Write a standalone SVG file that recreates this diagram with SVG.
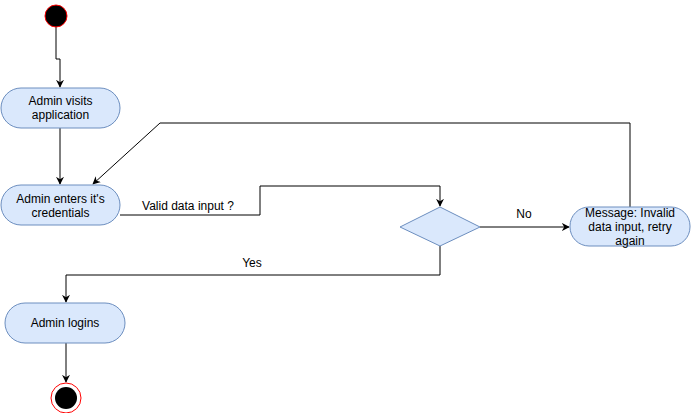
<svg xmlns="http://www.w3.org/2000/svg" width="691" height="413" viewBox="0 0 691 413">
<style>
.node{fill:#dae8fc;stroke:#6c8ebf;stroke-width:1}
.t{font-family:"Liberation Sans",Arial,sans-serif;font-size:12px;fill:#000;text-anchor:middle}
.c{fill:none;stroke:#000;stroke-width:1}
</style>
<defs>
<marker id="a" viewBox="0 0 10 10" refX="9" refY="5" markerWidth="8" markerHeight="8" markerUnits="userSpaceOnUse" orient="auto">
<path d="M0,0 L10,5 L0,10 L3,5 Z" fill="#000"/>
</marker>
</defs>
<rect width="691" height="413" fill="#fff"/>
<g id="connectors">
<path class="c" d="M56,27 V59 H60 V87" marker-end="url(#a)"/>
<path class="c" d="M60,128 V184" marker-end="url(#a)"/>
<path class="c" d="M120,215 H260 V186 H440 V206" marker-end="url(#a)"/>
<text class="t" x="188" y="210">Valid data input ?</text>
<path class="c" d="M480,227 H569" marker-end="url(#a)"/>
<text class="t" x="524" y="218">No</text>
<path class="c" d="M630,207 V123 H160 L93,184" marker-end="url(#a)"/>
<path class="c" d="M440,246 V275 H66 V302" marker-end="url(#a)"/>
<text class="t" x="252" y="267">Yes</text>
<path class="c" d="M66,343 V382" marker-end="url(#a)"/>
</g>
<g id="start"><circle cx="56" cy="16" r="11" fill="#000" stroke="#ff0000"/></g>
<g id="visit"><rect class="node" x="1" y="88" width="119" height="40" rx="20"/>
<text class="t" x="60.5" y="105">Admin visits</text><text class="t" x="60.5" y="119">application</text></g>
<g id="enter"><rect class="node" x="1" y="185" width="119" height="40" rx="20"/>
<text class="t" x="60.5" y="203">Admin enters it's</text><text class="t" x="60.5" y="217">credentials</text></g>
<g id="decision"><polygon class="node" points="440,207 480,227 440,246 400,227"/></g>
<g id="message"><rect class="node" x="570" y="207" width="120" height="39" rx="19"/>
<text class="t" x="630" y="217">Message: Invalid</text><text class="t" x="630" y="231">data input, retry</text><text class="t" x="630" y="245">again</text></g>
<g id="login"><rect class="node" x="5" y="303" width="120" height="40" rx="20"/>
<text class="t" x="65" y="327">Admin logins</text></g>
<g id="end"><circle cx="66" cy="398" r="15" fill="#fff" stroke="#ff0000"/><circle cx="66" cy="398" r="11" fill="#000"/></g>
</svg>
